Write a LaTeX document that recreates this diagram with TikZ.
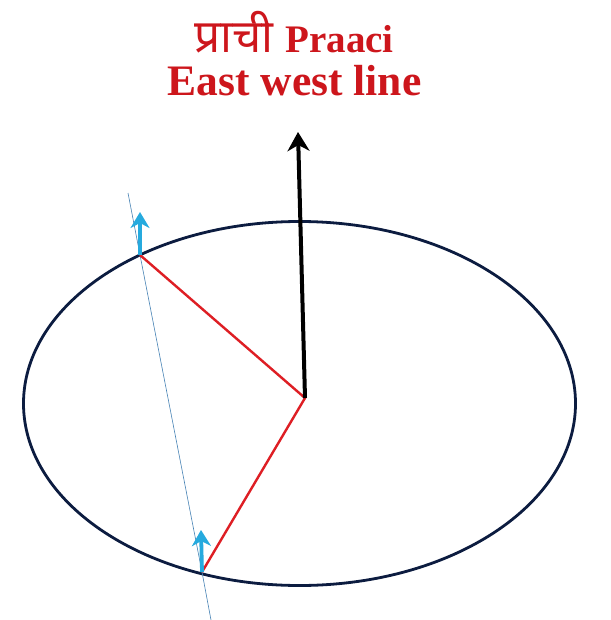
\documentclass[tikz,border=0pt]{standalone}
\usepackage{fontspec}
\setmainfont{Liberation Serif}
\newfontfamily\devfont[Script=Devanagari, BoldFeatures={FakeBold=2}]{Noto Sans}
\usetikzlibrary{arrows.meta}
\definecolor{navy}{RGB}{12,28,64}
\definecolor{redline}{RGB}{222,30,36}
\definecolor{titlered}{RGB}{205,22,28}
\definecolor{skyarrow}{RGB}{38,170,222}
\definecolor{steel}{RGB}{70,130,180}
\tikzset{
  rim/.style={line width=2.8pt, navy},
  ray/.style={line width=2.4pt, redline},
  pointer/.style={line width=4pt, black, -{Stealth[length=19pt, width=22pt, inset=6pt]}},
  tick/.style={line width=3.8pt, skyarrow, -{Stealth[length=16pt, width=19pt, inset=5pt]}},
  title/.style={text=titlered, font=\bfseries, anchor=base, inner sep=0pt}
}

\begin{document}
\begin{tikzpicture}[x=1pt, y=-1pt]
\useasboundingbox (0,0) rectangle (610,620);
\fill[white] (0,0) rectangle (610,620);
% labels
\node[title] (praaci) at (294,53)
  {{\devfont\fontsize{46}{50}\selectfont प्राची}\hspace{12pt}{\fontsize{39}{44}\selectfont Praaci}};
\node[title] (eastwest) at (294.5,96) {\fontsize{43.5}{50}\selectfont East west line};
% circle on the ground
\coordinate (hub) at (305,398);
\draw[rim] (299.5,403.5) ellipse [x radius=276, y radius=182];
\coordinate (upmark) at (140,255);
\coordinate (lowmark) at (202,572);
\coordinate (topend) at (128,193);
\coordinate (botend) at (211,620);
\coordinate (north) at (298,132);
% thin line through both marks
\draw[steel, line width=0.6pt] (topend) -- (upmark) -- (lowmark) -- (botend);
% shadow rays
\draw[ray] (upmark) -- (hub) -- (lowmark);
\draw[pointer] (hub) -- (north);
\draw[tick] (upmark) -- ++(0,-43);
\draw[tick] (lowmark) -- ++(-1,-42);
\end{tikzpicture}
\end{document}
